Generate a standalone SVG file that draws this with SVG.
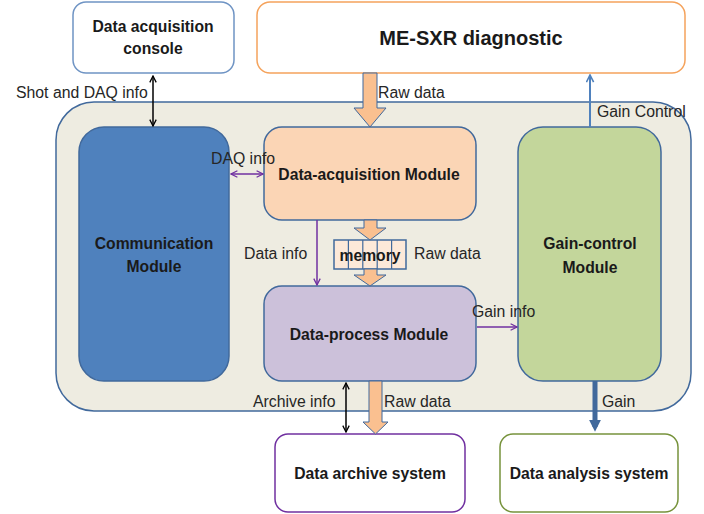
<svg xmlns="http://www.w3.org/2000/svg" width="704" height="514" viewBox="0 0 704 514">
<style>
text{font-family:"Liberation Sans",Arial,sans-serif;fill:#1a1a1a}
.b{font-weight:bold;font-size:15.7px;text-anchor:middle}
.l{font-size:15.8px;fill:#262626}
.mod{stroke:#41699c;stroke-width:1.5}
</style>
<defs>
<marker id="ak" viewBox="0 0 10 10" refX="9" refY="5" markerWidth="8" markerHeight="8" orient="auto-start-reverse" markerUnits="userSpaceOnUse"><path d="M1,1 L9,5 L1,9" fill="none" stroke="#000" stroke-width="1.6"/></marker>
<marker id="ap" viewBox="0 0 10 10" refX="9" refY="5" markerWidth="8" markerHeight="8" orient="auto-start-reverse" markerUnits="userSpaceOnUse"><path d="M1,1 L9,5 L1,9" fill="none" stroke="#7030a0" stroke-width="1.6"/></marker>
<marker id="ab" viewBox="0 0 10 10" refX="9" refY="5" markerWidth="9" markerHeight="9" orient="auto" markerUnits="userSpaceOnUse"><path d="M1,1 L9,5 L1,9" fill="none" stroke="#4f81bd" stroke-width="1.8"/></marker>
<marker id="abt" viewBox="0 0 10 10" refX="6" refY="5" markerWidth="12" markerHeight="12" orient="auto" markerUnits="userSpaceOnUse"><path d="M0,0 L10,5 L0,10 Z" fill="#41699c"/></marker>
</defs>

<g id="container"><rect x="56" y="102" width="635" height="309" rx="38" fill="#eeece1" stroke="#41699c" stroke-width="1.5"/></g>

<g id="daq-console"><rect x="73" y="2" width="161" height="71" rx="13" fill="#fff" stroke="#6f94c4" stroke-width="1.5"/><text class="b" x="153" y="32">Data acquisition</text><text class="b" x="153" y="54">console</text></g>

<g id="me-sxr"><rect x="257" y="2" width="428" height="71" rx="13" fill="#fff" stroke="#f5a35c" stroke-width="1.5"/><text class="b" x="471" y="45" style="font-size:20px">ME-SXR diagnostic</text></g>

<g id="communication"><rect class="mod" x="79" y="127" width="150" height="254" rx="25" fill="#4f81bd"/><text class="b" x="154" y="249">Communication</text><text class="b" x="154" y="272">Module</text></g>

<g id="data-acquisition"><rect class="mod" x="264" y="127" width="212" height="93" rx="18" fill="#fbd5b5"/><text class="b" x="369" y="180">Data-acquisition Module</text></g>

<g id="memory"><rect class="mod" x="334" y="240" width="72" height="29" fill="#fde9d9" stroke-width="1.2"/><path d="M348.4,240v29M362.8,240v29M377.2,240v29M391.6,240v29" stroke="#41699c" stroke-width="1.2"/><text class="b" x="370" y="261">memory</text></g>

<g id="data-process"><rect class="mod" x="264" y="286" width="212" height="95" rx="18" fill="#ccc1da"/><text class="b" x="369" y="340">Data-process Module</text></g>

<g id="gain-control"><rect class="mod" x="518" y="127" width="143" height="254" rx="25" fill="#c3d69b"/><text class="b" x="590" y="249">Gain-control</text><text class="b" x="590" y="273">Module</text></g>

<g id="archive"><rect x="275" y="434" width="190" height="78" rx="13" fill="#fff" stroke="#7030a0" stroke-width="1.5"/><text class="b" x="370" y="479">Data archive system</text></g>

<g id="analysis"><rect x="500" y="434" width="178" height="78" rx="13" fill="#fff" stroke="#77933c" stroke-width="1.5"/><text class="b" x="589" y="479">Data analysis system</text></g>

<g id="connectors">
<line x1="153" y1="76" x2="153" y2="126" stroke="#000" stroke-width="1.5" marker-start="url(#ak)" marker-end="url(#ak)"/>
<path d="M363,73H377V108H386L370,127L354,108H363Z" fill="#fac090" stroke="#41699c" stroke-width="1"/>
<line x1="231" y1="174" x2="263" y2="174" stroke="#7030a0" stroke-width="1.5" marker-start="url(#ap)" marker-end="url(#ap)"/>
<line x1="317" y1="220" x2="317" y2="285" stroke="#7030a0" stroke-width="1.5" marker-end="url(#ap)"/>
<path d="M364,220H377V228H386L370,240L354,228H364Z" fill="#fac090" stroke="#41699c" stroke-width="1"/>
<path d="M364,269H377V275H386L370,286L354,275H364Z" fill="#fac090" stroke="#41699c" stroke-width="1"/>
<line x1="477" y1="327" x2="517" y2="327" stroke="#7030a0" stroke-width="1.5" marker-end="url(#ap)"/>
<line x1="590" y1="127" x2="590" y2="75" stroke="#4f81bd" stroke-width="2" marker-end="url(#ab)"/>
<line x1="346" y1="383" x2="346" y2="432" stroke="#000" stroke-width="1.5" marker-start="url(#ak)" marker-end="url(#ak)"/>
<path d="M369,381H382V422H388L375.5,434L363,422H369Z" fill="#fac090" stroke="#41699c" stroke-width="1"/>
<line x1="595" y1="381" x2="595" y2="427" stroke="#41699c" stroke-width="5" marker-end="url(#abt)"/>
<text class="l" x="16" y="98">Shot and DAQ info</text>
<text class="l" x="378" y="98">Raw data</text>
<text class="l" x="211" y="164">DAQ info</text>
<text class="l" x="244" y="259">Data info</text>
<text class="l" x="414" y="259">Raw data</text>
<text class="l" x="472" y="317">Gain info</text>
<text class="l" x="597" y="117">Gain Control</text>
<text class="l" x="253" y="407">Archive info</text>
<text class="l" x="384" y="407">Raw data</text>
<text class="l" x="602" y="407">Gain</text>
</g>
</svg>
